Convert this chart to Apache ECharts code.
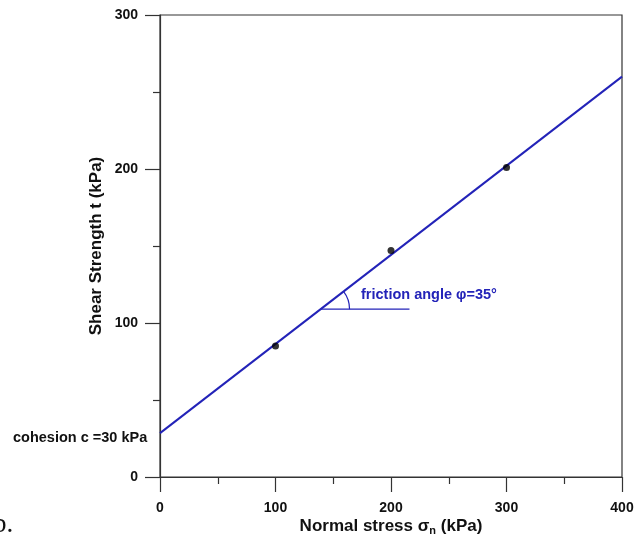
<!DOCTYPE html>
<html><head><meta charset="utf-8">
<script src="https://cdn.jsdelivr.net/npm/echarts@6/dist/echarts.min.js"></script>
<style>html,body{margin:0;padding:0;background:#fff;overflow:hidden}#c{width:636px;height:537px}</style>
</head><body><div id="c"></div>
<script>
var pointsX = [100, 200, 300];
var pointsY = [85, 147, 201];
var fitX = [0, 400];
var fitY = [28.5, 260];
var angleLineX = [139, 216];
var angleLineY = [109, 109];
var xTicks = [0, 100, 200, 300, 400];
var yTicks = [0, 100, 200, 300];

var chart = echarts.init(document.getElementById('c'));
var FONT = 'Liberation Sans, Arial, sans-serif';
var axisCol = '#333';
var blue = '#2323b8';
function zip(a, b) { return a.map(function (v, i) { return [v, b[i]]; }); }

chart.setOption({
  animation: false,
  grid: { left: 160, right: 14, top: 15, bottom: 60, show: true, borderColor: axisCol, borderWidth: 1.2,
    containLabel: false, outerBoundsMode: 'none' },
  xAxis: {
    type: 'value', min: 0, max: 400, interval: 100,
    axisLine: { onZero: false, lineStyle: { color: axisCol, width: 1.2 } },
    axisTick: { inside: false, length: 15, lineStyle: { color: axisCol, width: 1.2 } },
    minorTick: { show: true, splitNumber: 2, length: 7, lineStyle: { color: axisCol, width: 1.2 } },
    splitLine: { show: false },
    axisLabel: { margin: 24, color: '#111', fontFamily: FONT, fontWeight: 'bold', fontSize: 14,
      formatter: function (v) { return xTicks.indexOf(v) >= 0 ? String(v) : ''; } },
    name: 'Normal stress σ{s|n} (kPa)', nameLocation: 'middle', nameGap: 40, nameMoveOverlap: false,
    nameTextStyle: { color: '#111', fontFamily: FONT, fontWeight: 'bold', fontSize: 17,
      rich: { s: { fontFamily: FONT, fontWeight: 'bold', fontSize: 11, verticalAlign: 'bottom', padding: [8, 0, 0, 0] } } }
  },
  yAxis: {
    type: 'value', min: 0, max: 300, interval: 100,
    axisLine: { onZero: false, lineStyle: { color: axisCol, width: 1.2 } },
    axisTick: { inside: false, length: 15, lineStyle: { color: axisCol, width: 1.2 } },
    minorTick: { show: true, splitNumber: 2, length: 7, lineStyle: { color: axisCol, width: 1.2 } },
    splitLine: { show: false },
    axisLabel: { margin: 22, color: '#111', fontFamily: FONT, fontWeight: 'bold', fontSize: 14,
      formatter: function (v) { return yTicks.indexOf(v) >= 0 ? String(v) : ''; } },
    name: 'Shear Strength t (kPa)', nameLocation: 'middle', nameGap: 55, nameRotate: 90, nameMoveOverlap: false,
    nameTextStyle: { color: '#111', fontFamily: FONT, fontWeight: 'bold', fontSize: 17 }
  },
  series: [
    { type: 'line', data: zip(fitX, fitY), symbol: 'none', lineStyle: { color: blue, width: 2 }, z: 2 },
    { type: 'line', data: zip(angleLineX, angleLineY), symbol: 'none', lineStyle: { color: blue, width: 1.2 }, z: 2 },
    { type: 'scatter', data: zip(pointsX, pointsY), symbol: 'circle', symbolSize: 7, itemStyle: { color: '#000' }, z: 3 },
    { type: 'custom', z: 2, data: [[angleLineX[0], angleLineY[0]]],
      renderItem: function (params, api) {
        var c = api.coord([api.value(0), api.value(1)]);
        var p0 = api.coord([fitX[0], fitY[0]]);
        var p1 = api.coord([fitX[1], fitY[1]]);
        var ang = Math.atan2(p1[1] - p0[1], p1[0] - p0[0]);
        return { type: 'arc', shape: { cx: c[0], cy: c[1], r: 29, startAngle: ang, endAngle: 0, clockwise: true },
          style: { stroke: blue, lineWidth: 1.2, fill: null } };
      } }
  ],
  graphic: [
    { type: 'text', left: 361, top: 287, style: { text: 'friction angle φ=35°', fill: blue, font: 'bold 14.5px ' + FONT } },
    { type: 'text', left: 13, top: 430, style: { text: 'cohesion c =30 kPa', fill: '#111', font: 'bold 14.5px ' + FONT } },
    { type: 'text', left: -7, top: 511, style: { text: 'b.', fill: '#111', font: '27px "Liberation Serif", "Times New Roman", serif' } }
  ]
});
</script></body></html>
